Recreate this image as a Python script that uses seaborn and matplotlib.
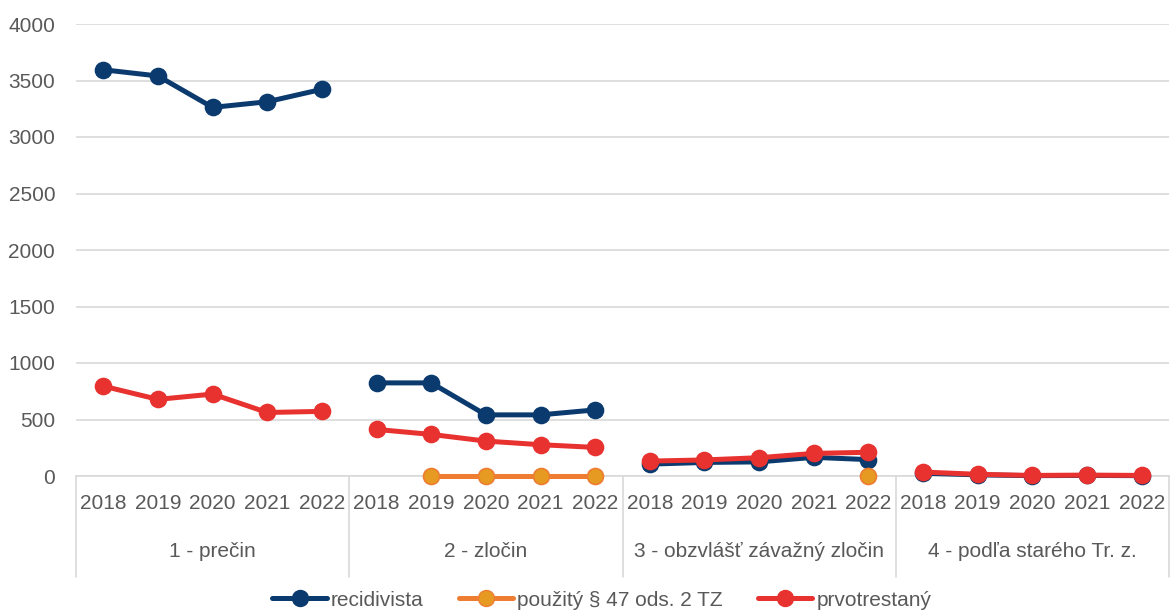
import numpy as np
import pandas as pd
import matplotlib
matplotlib.use("Agg")
import matplotlib.pyplot as plt
import seaborn as sns
from matplotlib.lines import Line2D
from matplotlib import font_manager as fm

years = ["2018", "2019", "2020", "2021", "2022"]
groups = ["1 - prečin", "2 - zločin", "3 - obzvlášť závažný zločin", "4 - podľa starého Tr. z."]
series_names = ["recidivista", "použitý § 47 ods. 2 TZ", "prvotrestaný"]

nan = np.nan
recidivista = [3595, 3540, 3262, 3312, 3422,
               824, 824, 541, 541, 585,
               105, 120, 125, 165, 145,
               25, 10, 3, 5, 3]
pouzity = [nan, nan, nan, nan, nan,
           nan, 0, 0, 0, 0,
           nan, nan, nan, nan, 0,
           nan, nan, nan, nan, nan]
prvotrestany = [795, 678, 725, 562, 572,
                412, 368, 309, 277, 253,
                132, 142, 162, 200, 210,
                35, 15, 5, 8, 5]

line_colors = ["#0B3A6E", "#EE7D31", "#E8322F"]
marker_faces = ["#0B3A6E", "#E69A22", "#E8322F"]

sns.set_theme(style="white")
avail = {f.name for f in fm.fontManager.ttflist}
fam = "Liberation Sans Narrow" if "Liberation Sans Narrow" in avail else "Liberation Sans"
plt.rcParams["font.family"] = [fam, "DejaVu Sans"]
txt_color = "#595959"

rows = []
for s, vals in zip(series_names, [recidivista, pouzity, prvotrestany]):
    for i, v in enumerate(vals):
        if not np.isnan(v):
            rows.append({"x": i, "value": v, "series": s, "group": i // 5})
df = pd.DataFrame(rows)

fig = plt.figure(figsize=(11.7, 6.12), dpi=100)
ax = fig.add_axes([76 / 1170, 1 - 476 / 612, (1169 - 76) / 1170, (476 - 24) / 612])

for s, lc, mf in zip(series_names, line_colors, marker_faces):
    sub = df[df["series"] == s]
    sns.lineplot(data=sub, x="x", y="value", units="group", estimator=None,
                 color=lc, linewidth=3.6, marker="o", markersize=11.5,
                 markerfacecolor=mf, markeredgecolor=lc, markeredgewidth=1.2,
                 ax=ax, legend=False, zorder=3, clip_on=False)

ax.set_xlim(-0.5, 19.5)
ax.set_ylim(0, 4000)
ax.set_yticks(range(0, 4001, 500))
ax.yaxis.grid(True, color="#D9D9D9", linewidth=1.2)
ax.set_axisbelow(True)
for sp in ["top", "right", "left"]:
    ax.spines[sp].set_visible(False)
ax.spines["bottom"].set_color("#D9D9D9")
ax.spines["bottom"].set_linewidth(1.2)
ax.set_xlabel("")
ax.set_ylabel("")
ax.set_xticks(range(20))
ax.set_xticklabels(years * 4)
ax.tick_params(axis="x", length=0, pad=13, labelsize=15, labelcolor=txt_color)
ax.tick_params(axis="y", length=0, pad=15, labelsize=15, labelcolor=txt_color)

trans = ax.get_xaxis_transform()
for b in [-0.5, 4.5, 9.5, 14.5, 19.5]:
    ax.plot([b, b], [0, -0.223], transform=trans, color="#D9D9D9", linewidth=1.2, clip_on=False)
for gi, g in enumerate(groups):
    ax.text(gi * 5 + 2, -0.166, g, transform=trans, ha="center", va="center",
            fontsize=15, color=txt_color)

handles = [Line2D([], [], color=lc, linewidth=3.6, marker="o", markersize=11.5,
                  markerfacecolor=mf, markeredgecolor=lc)
           for lc, mf in zip(line_colors, marker_faces)]
leg = fig.legend(handles, series_names, loc="center", bbox_to_anchor=(602 / 1170, 1 - 600 / 612),
                 ncol=3, frameon=False, fontsize=15, handlelength=2.6, handletextpad=0.2,
                 columnspacing=1.7, labelcolor=txt_color)

fig.savefig("out.png", dpi=100)
